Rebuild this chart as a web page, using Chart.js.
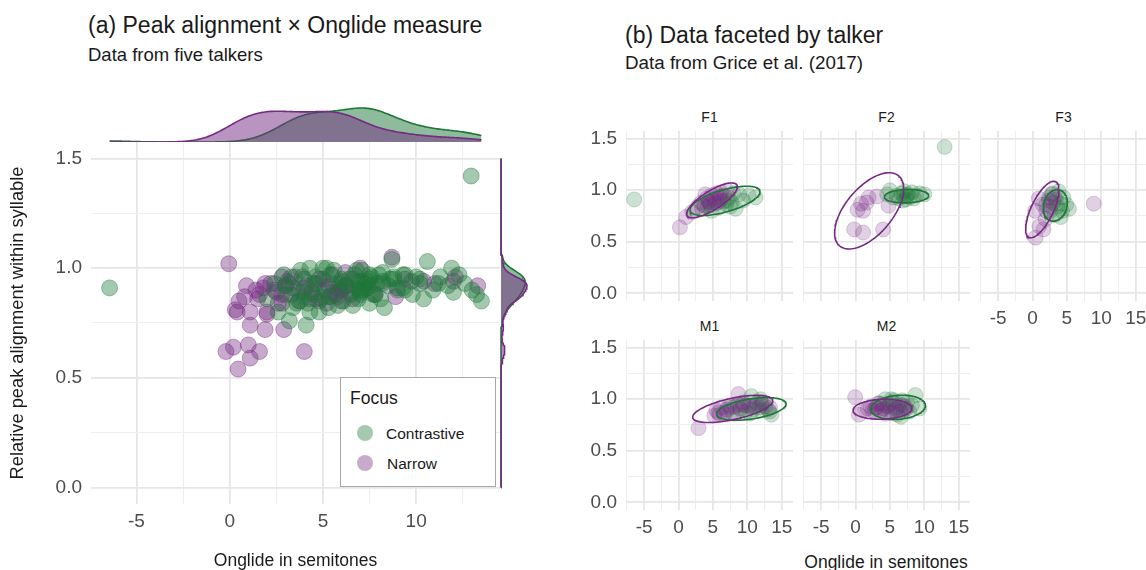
<!DOCTYPE html>
<html>
<head>
<meta charset="utf-8">
<script src="https://cdn.jsdelivr.net/npm/chart.js@4.4.1/dist/chart.umd.min.js"></script>
<style>
  html, body { margin: 0; padding: 0; background: #ffffff; overflow: hidden; }
  body { width: 1146px; height: 570px; position: relative; font-family: "Liberation Sans", Arial, Helvetica, sans-serif; color: #1a1a1a; }
  canvas { position: absolute; }
  .txt { position: absolute; white-space: nowrap; line-height: 1; }
  .key { position: absolute; width: 16px; height: 16px; border-radius: 50%; }
</style>
</head>
<body>
<div class="txt" style="left:88px;top:14px;font-size:23px;">(a) Peak alignment × Onglide measure</div>
<div class="txt" style="left:88px;top:46px;font-size:18.5px;">Data from five talkers</div>
<div class="txt" style="left:625px;top:24px;font-size:23px;">(b) Data faceted by talker</div>
<div class="txt" style="left:625px;top:54px;font-size:18.8px;">Data from Grice et al. (2017)</div>

<canvas id="topDensity" width="510" height="47" style="left:0;top:95px;"></canvas>
<canvas id="main" width="510" height="442" style="left:0;top:130px;"></canvas>
<canvas id="rightDensity" width="32" height="362" style="left:499px;top:142px;"></canvas>

<div id="legendBox" style="position:absolute;left:340px;top:377px;width:154px;height:108px;border:1px solid #a8a8a8;background:#ffffff;">
  <div class="txt" style="left:9px;top:12px;font-size:17.5px;">Focus</div>
  <div class="key" style="left:16px;top:47px;background:rgba(27,120,55,0.4);"></div>
  <div class="txt" style="left:45px;top:48px;font-size:15.5px;">Contrastive</div>
  <div class="key" style="left:16px;top:77px;background:rgba(118,42,131,0.4);"></div>
  <div class="txt" style="left:46px;top:78px;font-size:15.5px;">Narrow</div>
</div>

<div class="txt" id="stripF1" style="font-size:14px;"></div>
<div class="txt" id="stripF2" style="font-size:14px;"></div>
<div class="txt" id="stripF3" style="font-size:14px;"></div>
<div class="txt" id="stripM1" style="font-size:14px;"></div>
<div class="txt" id="stripM2" style="font-size:14px;"></div>
<div class="txt" id="facetXTitle" style="left:886px;top:554px;font-size:17.5px;transform:translateX(-50%);">Onglide in semitones</div>

<script>
// Onglide (semitones) and relative peak alignment, per talker and focus type.
const talkers = ['F1', 'F2', 'F3', 'M1', 'M2'];

const f1ContrastiveX = [-6.44, 3.4, 3.8, 4.2, 4.5, 4.8, 5.3, 5.8, 6.1, 6.5, 6.9, 7.1, 7.3, 7.5, 7.7, 8.0, 8.3, 8.8, 9.4, 10.2, 11.2];
const f1ContrastiveY = [0.91, 0.82, 0.85, 0.84, 0.88, 0.80, 0.87, 0.83, 0.94, 0.89, 0.86, 0.90, 0.93, 0.84, 0.88, 0.97, 0.82, 0.96, 0.90, 0.95, 0.93];
const f1NarrowX = [0.2, 1.1, 2.0, 2.8, 3.3, 3.7, 3.9, 4.1, 4.4, 4.6, 4.8, 5.1, 5.3, 5.5, 5.7, 5.9, 6.0, 6.2, 6.6, 7.0];
const f1NarrowY = [0.64, 0.74, 0.79, 0.84, 0.88, 0.85, 0.96, 0.92, 0.89, 0.86, 0.95, 0.90, 0.92, 0.97, 0.88, 0.93, 0.90, 0.98, 0.95, 1.00];

const f2ContrastiveX = [4.6, 5.0, 5.5, 6.0, 6.3, 6.7, 6.9, 7.0, 7.1, 7.3, 7.5, 7.6, 7.9, 8.2, 8.5, 8.8, 9.3, 10.0, 12.95];
const f2ContrastiveY = [0.96, 1.00, 0.93, 0.95, 0.92, 0.97, 0.90, 0.94, 0.99, 0.91, 0.95, 0.96, 0.93, 0.98, 0.92, 0.95, 0.97, 0.96, 1.42];
const f2NarrowX = [-0.2, 1.1, 4.0, 0.3, 1.1, 0.8, 1.6, 1.9, 3.1, 4.8];
const f2NarrowY = [0.62, 0.59, 0.62, 0.81, 0.80, 0.87, 0.88, 0.93, 0.94, 0.85];

const f3ContrastiveX = [2.0, 2.4, 2.6, 2.9, 3.0, 3.2, 3.4, 3.6, 3.8, 4.0, 4.1, 4.3, 4.5, 4.9, 5.3];
const f3ContrastiveY = [0.86, 0.93, 0.80, 0.97, 0.88, 0.76, 0.91, 0.84, 0.99, 0.87, 0.74, 0.80, 0.93, 0.86, 0.82];
const f3NarrowX = [0.45, 1.0, 1.6, 0.4, 0.9, 1.5, 2.0, 2.4, 2.8, 1.9, 2.6, 3.2, 8.9];
const f3NarrowY = [0.54, 0.65, 0.62, 0.80, 0.92, 0.86, 0.80, 0.90, 0.96, 0.72, 0.84, 0.93, 0.87];

const m1ContrastiveX = [7.0, 7.6, 8.1, 8.6, 9.0, 9.4, 9.8, 10.2, 10.4, 10.6, 10.9, 11.3, 11.7, 11.9, 12.0, 12.3, 12.6, 13.0, 13.24, 13.5];
const m1ContrastiveY = [0.88, 0.92, 0.86, 0.95, 0.90, 0.97, 0.88, 0.93, 0.86, 1.03, 0.90, 0.96, 0.92, 1.00, 0.89, 0.97, 0.93, 0.90, 0.88, 0.85];
const m1NarrowX = [2.9, 5.2, 5.5, 5.8, 6.0, 6.2, 6.6, 7.0, 7.4, 7.8, 8.2, 8.7, 9.0, 9.4, 9.75, 10.4, 11.0, 12.0, 12.1, 13.3];
const m1NarrowY = [0.72, 0.84, 0.89, 0.87, 0.85, 0.92, 0.86, 0.90, 0.94, 0.88, 0.93, 1.05, 0.91, 0.95, 0.94, 0.94, 0.93, 0.94, 0.96, 0.92];

const m2ContrastiveX = [3.0, 3.5, 3.9, 4.0, 4.3, 4.7, 5.0, 5.2, 5.4, 5.6, 5.8, 6.1, 6.4, 6.6, 6.8, 7.0, 7.2, 7.5, 7.8, 8.2, 8.7, 9.3];
const m2ContrastiveY = [0.92, 0.96, 0.89, 0.95, 1.00, 0.93, 0.87, 1.00, 0.97, 0.99, 0.91, 0.85, 0.95, 0.83, 0.99, 0.89, 0.93, 0.97, 0.88, 0.94, 1.04, 0.91];
const m2NarrowX = [-0.05, 0.5, 1.4, 1.8, 2.2, 2.5, 2.8, 3.0, 3.3, 3.7, 4.0, 4.3, 4.6, 5.0, 5.4, 5.9, 6.2, 6.5, 6.9, 7.4];
const m2NarrowY = [1.02, 0.85, 0.90, 0.91, 0.93, 0.89, 0.88, 0.92, 0.96, 0.89, 0.91, 0.86, 0.93, 0.95, 0.87, 0.90, 0.92, 0.88, 0.94, 0.91];

// 95% ellipses per talker: [centre x, centre y, x half-extent, y half-extent, correlation]
const ellipseContrastive = [
  [6.76, 0.897, 5.09, 0.142, 0.62],
  [7.41, 0.942, 3.22, 0.065, 0.10],
  [3.31, 0.853, 1.75, 0.153, 0.17],
  [10.59, 0.906, 5.04, 0.110, 0.44],
  [6.20, 0.921, 3.95, 0.118, 0.15]
];
const ellipseNarrow = [
  [4.87, 0.902, 3.68, 0.169, 0.78],
  [1.98, 0.800, 5.02, 0.370, 0.58],
  [1.42, 0.813, 2.42, 0.274, 0.69],
  [7.88, 0.906, 5.82, 0.132, 0.60],
  [3.92, 0.903, 4.28, 0.097, 0.10]
];

// Axis breaks
const mainXMajor = [-5, 0, 5, 10];
const mainXMinor = [-2.5, 2.5, 7.5, 12.5];
const facetXMajor = [-5, 0, 5, 10, 15];
const facetXMinor = [-7.5, -2.5, 2.5, 7.5, 12.5];
const yMajor = [0, 0.5, 1.0, 1.5];
const yMinor = [0.25, 0.75, 1.25];
const yLimits = [-0.075, 1.575];
const facetXLimits = [-7.63, 16.64];

const contrastiveX = { F1: f1ContrastiveX, F2: f2ContrastiveX, F3: f3ContrastiveX, M1: m1ContrastiveX, M2: m2ContrastiveX };
const contrastiveY = { F1: f1ContrastiveY, F2: f2ContrastiveY, F3: f3ContrastiveY, M1: m1ContrastiveY, M2: m2ContrastiveY };
const narrowX = { F1: f1NarrowX, F2: f2NarrowX, F3: f3NarrowX, M1: m1NarrowX, M2: m2NarrowX };
const narrowY = { F1: f1NarrowY, F2: f2NarrowY, F3: f3NarrowY, M1: m1NarrowY, M2: m2NarrowY };

const GREEN = '#1b7837';
const PURPLE = '#762a83';
const FONT = '"Liberation Sans", Arial, Helvetica, sans-serif';
const TICK_COLOR = '#4d4d4d';
const TICK_SIZE = 19;

Chart.defaults.font.family = FONT;
Chart.defaults.color = TICK_COLOR;
Chart.defaults.layout.autoPadding = false;

const zip = (xs, ys) => xs.map((x, i) => ({ x, y: ys[i] }));
const allContrastive = talkers.flatMap(t => zip(contrastiveX[t], contrastiveY[t]));
const allNarrow = talkers.flatMap(t => zip(narrowX[t], narrowY[t]));

function rgba(hex, a) {
  const n = parseInt(hex.slice(1), 16);
  return `rgba(${n >> 16},${(n >> 8) & 255},${n & 255},${a})`;
}

// Gaussian kernel density with the nrd0 bandwidth rule
function bandwidth(v) {
  const n = v.length;
  const mean = v.reduce((s, a) => s + a, 0) / n;
  const sd = Math.sqrt(v.reduce((s, a) => s + (a - mean) ** 2, 0) / (n - 1));
  const s = [...v].sort((a, b) => a - b);
  const q = p => { const h = (n - 1) * p, lo = Math.floor(h); const hi = Math.min(lo + 1, n - 1); return s[lo] + (h - lo) * (s[hi] - s[lo]); };
  const iqr = q(0.75) - q(0.25);
  return 0.9 * Math.min(sd, iqr / 1.34) * Math.pow(n, -0.2);
}
function density(v, from, to, steps) {
  const bw = bandwidth(v);
  const out = [];
  for (let i = 0; i <= steps; i++) {
    const t = from + (to - from) * i / steps;
    let d = 0;
    for (const a of v) { const z = (t - a) / bw; d += Math.exp(-0.5 * z * z); }
    out.push({ at: t, d: d / (v.length * bw * Math.sqrt(2 * Math.PI)) });
  }
  return out;
}

function ellipsePath(p) {
  const [cx, cy, rx, ry, rho] = p;
  const k = Math.sqrt(1 - rho * rho);
  const pts = [];
  for (let i = 0; i <= 120; i++) {
    const t = 2 * Math.PI * i / 120;
    pts.push({ x: cx + rx * Math.cos(t), y: cy + ry * (rho * Math.cos(t) + k * Math.sin(t)) });
  }
  return pts;
}

function breaks(major, minor) {
  return scale => { scale.ticks = major.concat(minor).sort((a, b) => a - b).map(v => ({ value: v })); };
}
// fixed axis box, no extra room reserved for edge labels
function fixedBox(prop, size) {
  return s => {
    s[prop] = size;
    s.paddingTop = 0; s.paddingBottom = 0; s.paddingLeft = 0; s.paddingRight = 0;
  };
}
const isMajor = (list, v) => list.some(m => Math.abs(m - v) < 1e-9);
function gridStyle(major) {
  return {
    drawTicks: false,
    color: ctx => isMajor(major, ctx.tick.value) ? '#e6e6e6' : '#eeeeee',
    lineWidth: ctx => isMajor(major, ctx.tick.value) ? 1.8 : 1.1
  };
}

// ---------- panel (a): main scatter ----------
const allXs = allContrastive.concat(allNarrow).map(p => p.x);
const xLo = Math.min(...allXs), xHi = Math.max(...allXs);
const xPad = 0.05 * (xHi - xLo);
const mainXMin = xLo - xPad, mainXMax = xHi + xPad;

new Chart(document.getElementById('main'), {
  type: 'scatter',
  data: {
    datasets: [
      { label: 'Contrastive', data: allContrastive, pointRadius: 8, backgroundColor: rgba(GREEN, 0.4), borderColor: rgba(GREEN, 0.4), borderWidth: 1 },
      { label: 'Narrow', data: allNarrow, pointRadius: 8, backgroundColor: rgba(PURPLE, 0.4), borderColor: rgba(PURPLE, 0.4), borderWidth: 1 }
    ]
  },
  options: {
    responsive: false, animation: false, devicePixelRatio: 1,
    layout: { padding: { left: 0, right: 10, top: 12, bottom: 0 } },
    plugins: { legend: { display: false }, tooltip: { enabled: false } },
    scales: {
      x: {
        type: 'linear', min: mainXMin, max: mainXMax,
        afterBuildTicks: breaks(mainXMajor, mainXMinor),
        afterFit: fixedBox('height', 68),
        ticks: { autoSkip: false, maxRotation: 0, padding: 6, font: { size: TICK_SIZE }, color: TICK_COLOR,
                 callback: v => isMajor(mainXMajor, v) ? String(v) : '' },
        grid: gridStyle(mainXMajor), border: { display: false },
        title: { display: true, text: 'Onglide in semitones', color: '#1a1a1a', font: { size: 17.5 }, padding: { top: 0, bottom: 0 } }
      },
      y: {
        type: 'linear', min: yLimits[0], max: yLimits[1],
        afterBuildTicks: breaks(yMajor, yMinor),
        afterFit: fixedBox('width', 91),
        ticks: { autoSkip: false, padding: 9, font: { size: TICK_SIZE }, color: TICK_COLOR,
                 callback: v => isMajor(yMajor, v) ? v.toFixed(1) : '' },
        grid: gridStyle(yMajor), border: { display: false },
        title: { display: true, text: 'Relative peak alignment within syllable', color: '#1a1a1a', font: { size: 18.3 }, padding: { top: 7, bottom: 0 } }
      }
    }
  }
});

// ---------- marginal densities (narrow drawn on top) ----------
const topG = density(allContrastive.map(p => p.x), xLo, xHi, 256);
const topN = density(allNarrow.map(p => p.x), xLo, xHi, 256);
const topPeak = Math.max(...topG.map(p => p.d), ...topN.map(p => p.d));

const densityStyle = (hex) => ({
  borderColor: hex, borderWidth: 1.6, backgroundColor: rgba(hex, 0.5),
  fill: 'origin', pointRadius: 0, tension: 0, clip: 4
});

new Chart(document.getElementById('topDensity'), {
  type: 'line',
  data: {
    datasets: [
      { data: topN.map(p => ({ x: p.at, y: p.d })), ...densityStyle(PURPLE) },
      { data: topG.map(p => ({ x: p.at, y: p.d })), ...densityStyle(GREEN) }
    ]
  },
  options: {
    responsive: false, animation: false, devicePixelRatio: 1,
    layout: { padding: { left: 91, right: 10, top: 0, bottom: 0 } },
    plugins: { legend: { display: false }, tooltip: { enabled: false } },
    scales: {
      x: { type: 'linear', display: false, min: mainXMin, max: mainXMax },
      y: { type: 'linear', display: false, min: 0, max: topPeak * 47 / 34 }
    }
  }
});

const rightG = density(allContrastive.map(p => p.y), 0, 1.5, 300);
const rightN = density(allNarrow.map(p => p.y), 0, 1.5, 300);
const rightPeak = Math.max(...rightG.map(p => p.d), ...rightN.map(p => p.d));

new Chart(document.getElementById('rightDensity'), {
  type: 'line',
  data: {
    datasets: [
      { data: rightN.map(p => ({ x: p.d, y: p.at })), ...densityStyle(PURPLE) },
      { data: rightG.map(p => ({ x: p.d, y: p.at })), ...densityStyle(GREEN) }
    ]
  },
  options: {
    indexAxis: 'y',
    responsive: false, animation: false, devicePixelRatio: 1,
    layout: { padding: { left: 2, right: 0, top: 0, bottom: 0 } },
    plugins: { legend: { display: false }, tooltip: { enabled: false } },
    scales: {
      x: { type: 'linear', display: false, min: 0, max: rightPeak * 30 / 26 },
      y: { type: 'linear', display: false, min: yLimits[0], max: yLimits[1] }
    }
  }
});

// ---------- panel (b): one facet per talker ----------
const colLeft = [626, 803, 980];
const rowTop = [131, 340];
const PANEL_W = 167, PANEL_H = 170, Y_AXIS_W = 50, X_AXIS_H = 30;
const facetCells = { F1: [0, 0], F2: [1, 0], F3: [2, 0], M1: [0, 1], M2: [1, 1] };

talkers.forEach((t, i) => {
  const [col, row] = facetCells[t];
  const showY = col === 0;
  const showX = row === 1 || col === 2;
  const left = colLeft[col], top = rowTop[row];

  const strip = document.getElementById('strip' + t);
  strip.textContent = t;
  strip.style.left = (left + PANEL_W / 2) + 'px';
  strip.style.top = (top - 21) + 'px';
  strip.style.transform = 'translateX(-50%)';

  const canvas = document.createElement('canvas');
  canvas.width = Y_AXIS_W + PANEL_W;
  canvas.height = PANEL_H + X_AXIS_H;
  canvas.style.left = (left - Y_AXIS_W) + 'px';
  canvas.style.top = top + 'px';
  document.body.appendChild(canvas);

  // first dataset is drawn last, so the ellipses sit above the points
  new Chart(canvas, {
    type: 'scatter',
    data: {
      datasets: [
        { data: ellipsePath(ellipseNarrow[i]), showLine: true, pointRadius: 0, borderColor: PURPLE, borderWidth: 1.6, fill: false, tension: 0 },
        { data: ellipsePath(ellipseContrastive[i]), showLine: true, pointRadius: 0, borderColor: GREEN, borderWidth: 1.6, fill: false, tension: 0 },
        { data: zip(narrowX[t], narrowY[t]), pointRadius: 7.5, backgroundColor: rgba(PURPLE, 0.22), borderColor: rgba(PURPLE, 0.22), borderWidth: 1 },
        { data: zip(contrastiveX[t], contrastiveY[t]), pointRadius: 7.5, backgroundColor: rgba(GREEN, 0.22), borderColor: rgba(GREEN, 0.22), borderWidth: 1 }
      ]
    },
    options: {
      responsive: false, animation: false, devicePixelRatio: 1,
      layout: { padding: 0 },
      plugins: { legend: { display: false }, tooltip: { enabled: false } },
      scales: {
        x: {
          type: 'linear', min: facetXLimits[0], max: facetXLimits[1],
          afterBuildTicks: breaks(facetXMajor, facetXMinor),
          afterFit: fixedBox('height', X_AXIS_H),
          ticks: { display: showX, autoSkip: false, maxRotation: 0, padding: 6, font: { size: TICK_SIZE }, color: TICK_COLOR,
                   callback: v => isMajor(facetXMajor, v) ? String(v) : '' },
          grid: gridStyle(facetXMajor), border: { display: false }
        },
        y: {
          type: 'linear', min: yLimits[0], max: yLimits[1],
          afterBuildTicks: breaks(yMajor, yMinor),
          afterFit: fixedBox('width', Y_AXIS_W),
          ticks: { display: showY, autoSkip: false, padding: 9, font: { size: TICK_SIZE }, color: TICK_COLOR,
                   callback: v => isMajor(yMajor, v) ? v.toFixed(1) : '' },
          grid: gridStyle(yMajor), border: { display: false }
        }
      }
    }
  });
});
</script>
</body>
</html>
